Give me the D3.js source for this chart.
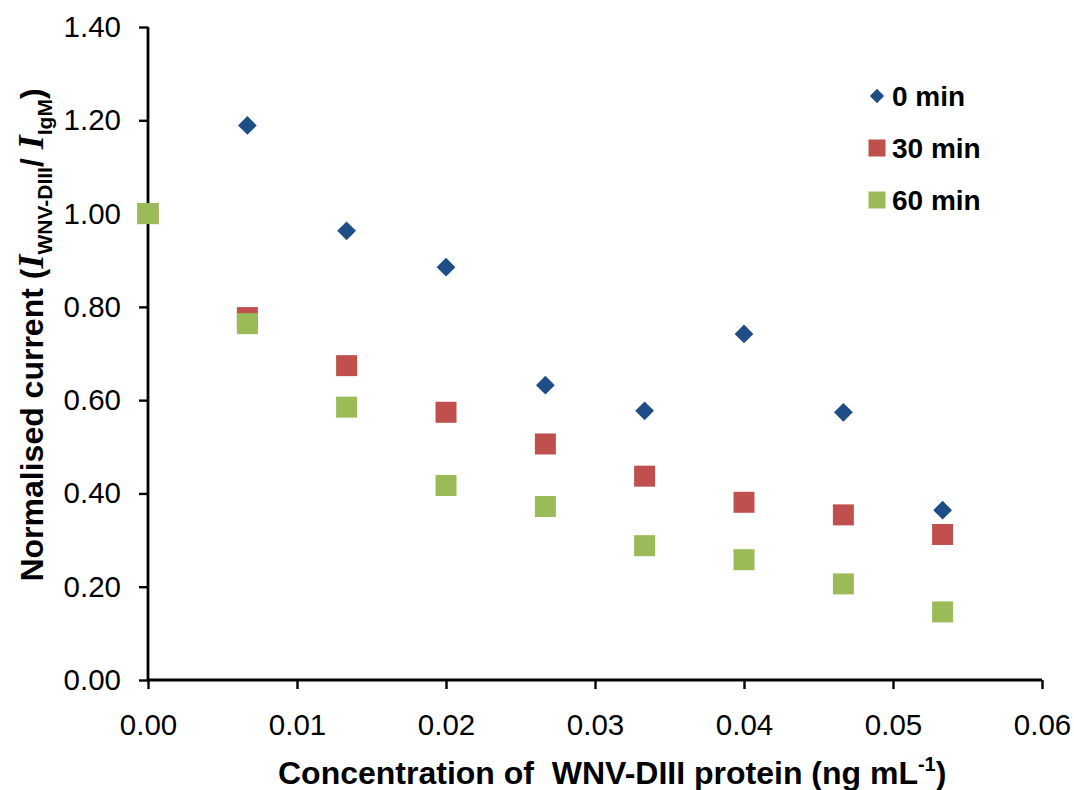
<!DOCTYPE html>
<html>
<head>
<meta charset="utf-8">
<script src="https://cdn.jsdelivr.net/npm/d3@7"></script>
<style>
  html, body { margin: 0; padding: 0; background: #fff; }
  svg { display: block; }
  text { font-family: "Liberation Sans", Arial, sans-serif; fill: #000; }
</style>
</head>
<body>
<div id="chart"></div>
<script>
// Concentrations of WNV-DIII protein (ng/mL)
const concentrations = [0, 0.00667, 0.01333, 0.02, 0.02667, 0.03333, 0.04, 0.04667, 0.05333];

// Normalised current at each incubation time
const series0min  = [1.00, 1.189, 0.963, 0.885, 0.632, 0.577, 0.742, 0.574, 0.364];
const series30min = [1.00, 0.777, 0.674, 0.574, 0.506, 0.437, 0.381, 0.354, 0.312];
const series60min = [1.00, 0.764, 0.585, 0.417, 0.372, 0.288, 0.258, 0.206, 0.146];

const seriesNames  = ["0 min", "30 min", "60 min"];
const seriesColors = ["#1F4E86", "#C0504D", "#9BBB59"];
const seriesShapes = ["diamond", "square", "square"];

const xTicks = [0, 0.01, 0.02, 0.03, 0.04, 0.05, 0.06];
const yTicks = [0, 0.2, 0.4, 0.6, 0.8, 1.0, 1.2, 1.4];

const W = 1074, H = 790;
const margin = { left: 148, right: 32, top: 27, bottom: 110 };

const svg = d3.select("#chart").append("svg")
  .attr("width", W).attr("height", H);

const x = d3.scaleLinear().domain([0, 0.06]).range([margin.left, W - margin.right]);
const y = d3.scaleLinear().domain([0, 1.4]).range([H - margin.bottom, margin.top]);

// Axes
const xAxis = svg.append("g")
  .attr("transform", `translate(0,${y(0)})`)
  .call(d3.axisBottom(x).tickValues(xTicks).tickFormat(d3.format(".2f")).tickSize(9).tickPadding(25));
const yAxis = svg.append("g")
  .attr("transform", `translate(${x(0)},0)`)
  .call(d3.axisLeft(y).tickValues(yTicks).tickFormat(d3.format(".2f")).tickSize(9).tickPadding(18));

[xAxis, yAxis].forEach(g => {
  g.select(".domain").attr("stroke", "#000").attr("stroke-width", 2.8);
  g.selectAll(".tick line").attr("stroke", "#000").attr("stroke-width", 2.4);
  g.selectAll(".tick text")
    .style("font-family", '"Liberation Sans", Arial, sans-serif')
    .style("font-size", "29.5px").attr("fill", "#000");
});
xAxis.select(".domain").attr("d", `M${x(0)},0H${x(0.06)}`);
yAxis.select(".domain").attr("d", `M0,${y(1.4)}V${y(0)}`);

// Markers
const symDiamond = d3.symbol().type(d3.symbolDiamond2).size(225);
const markerSquare = 21;

const allSeries = [series0min, series30min, series60min];
allSeries.forEach((vals, i) => {
  const g = svg.append("g");
  const pts = concentrations.map((c, j) => ({ c, v: vals[j] }));
  if (seriesShapes[i] === "diamond") {
    g.selectAll("path").data(pts).join("path")
      .attr("d", symDiamond)
      .attr("transform", d => `translate(${x(d.c)},${y(d.v)})`)
      .attr("fill", seriesColors[i]);
  } else {
    g.selectAll("rect").data(pts).join("rect")
      .attr("x", d => x(d.c) - markerSquare / 2)
      .attr("y", d => y(d.v) - markerSquare / 2)
      .attr("width", markerSquare).attr("height", markerSquare)
      .attr("fill", seriesColors[i]);
  }
});

// Legend
const legend = svg.append("g").attr("transform", "translate(877,96)");
seriesNames.forEach((name, i) => {
  const row = legend.append("g").attr("transform", `translate(0,${i * 52})`);
  if (seriesShapes[i] === "diamond") {
    row.append("path").attr("d", d3.symbol().type(d3.symbolDiamond2).size(130)).attr("fill", seriesColors[i]);
  } else {
    row.append("rect").attr("x", -8.5).attr("y", -8.5).attr("width", 17).attr("height", 17)
      .attr("fill", seriesColors[i]);
  }
  row.append("text").attr("x", 15).attr("y", 10)
    .style("font-size", "28px").style("font-weight", "bold").text(name);
});

// X axis title
const xt = svg.append("text")
  .attr("x", 278).attr("y", 784)
  .attr("text-anchor", "start")
  .style("font-size", "32px").style("font-weight", "bold")
  .attr("xml:space", "preserve");
xt.append("tspan").text("Concentration of  WNV-DIII protein (ng mL");
xt.append("tspan").attr("dy", -13).style("font-size", "20px").text("-1");
xt.append("tspan").attr("dy", 13).text(")");

// Y axis title
const yt = svg.append("text")
  .attr("transform", `translate(43,${(88 + 582) / 2}) rotate(-90)`)
  .attr("text-anchor", "middle")
  .style("font-size", "32px").style("font-weight", "bold");
yt.append("tspan").text("Normalised current (");
yt.append("tspan").style("font-family", '"Liberation Serif", "Times New Roman", serif')
  .style("font-style", "italic").style("font-size", "36px").text("I");
yt.append("tspan").attr("dy", 9).style("font-size", "21px").text("WNV-DIII");
yt.append("tspan").attr("dy", -9).text("/ ");
yt.append("tspan").style("font-family", '"Liberation Serif", "Times New Roman", serif')
  .style("font-style", "italic").style("font-size", "36px").text("I");
yt.append("tspan").attr("dy", 9).style("font-size", "21px").text("IgM");
yt.append("tspan").attr("dy", -9).text(")");
</script>
</body>
</html>
